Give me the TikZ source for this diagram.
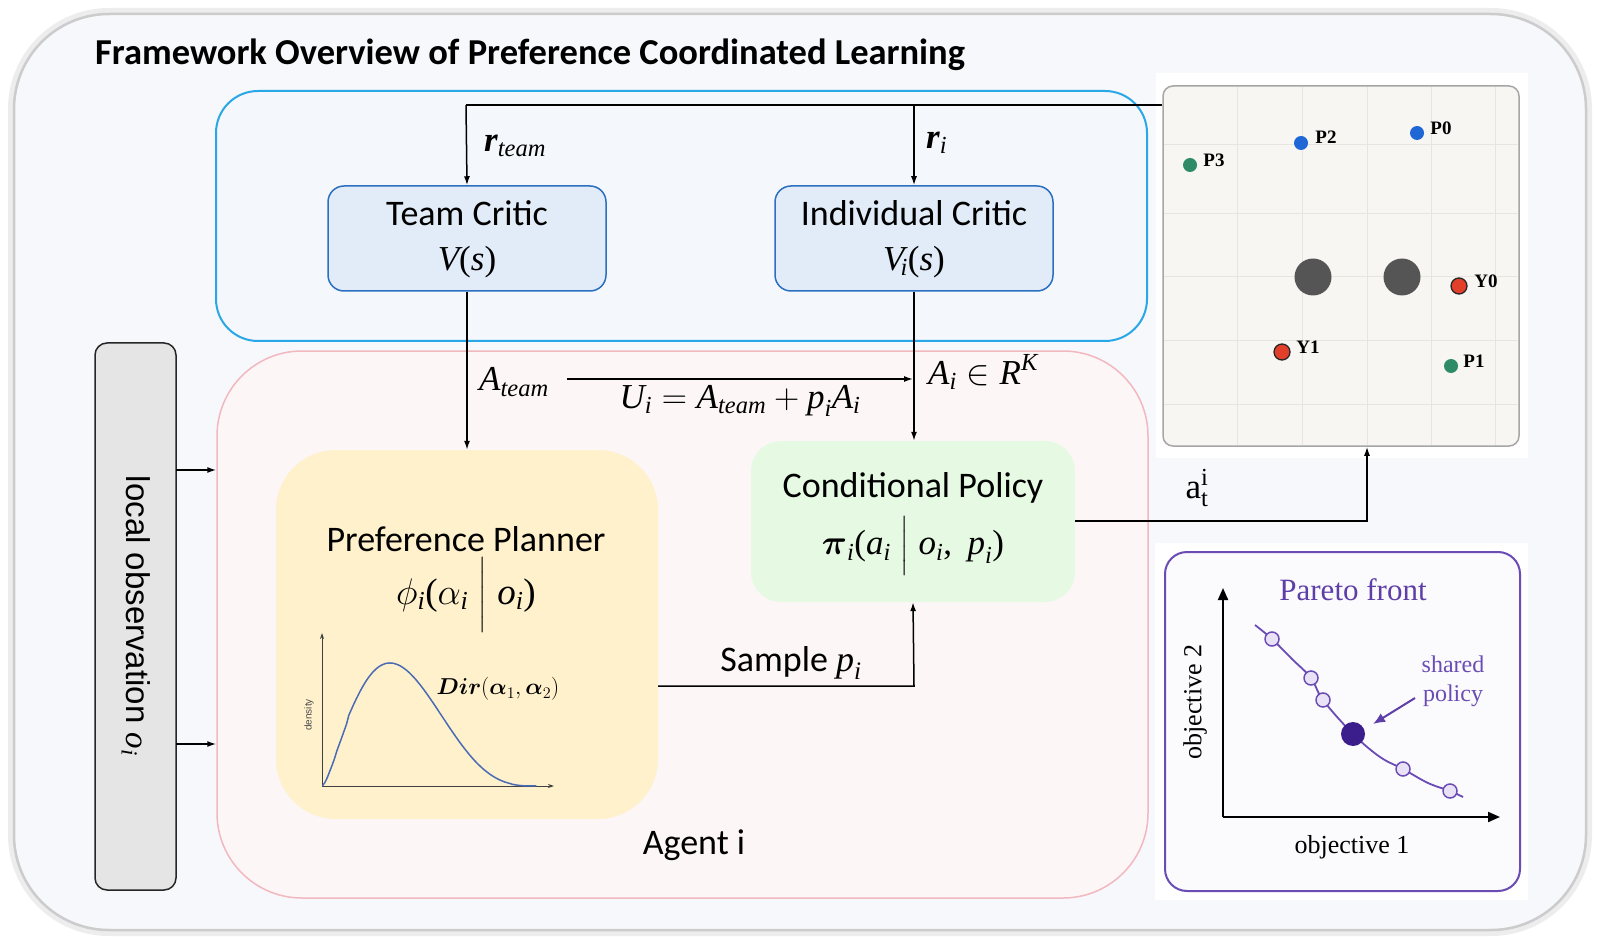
\RequirePackage{fix-cm}
\documentclass[tikz,border=0pt]{standalone}
\usepackage{amsmath}
\usepackage{fontspec}
\setmainfont{Carlito}
\newfontfamily\tms{Liberation Serif}
\newfontfamily\lsans{Liberation Sans}
\usetikzlibrary{arrows.meta}
\newcommand\ti[1]{\text{\tms\itshape #1}}
\newcommand\tu[1]{\text{\tms #1}}
\newcommand\tbi[1]{\text{\tms\bfseries\itshape #1}}
\definecolor{outerf}{HTML}{F7F8FB}
\definecolor{cyanb}{HTML}{2AA7E6}
\definecolor{bluef}{HTML}{F4F7FC}
\definecolor{pinkb}{HTML}{F2B8BF}
\definecolor{pinkf}{HTML}{FCF6F7}
\definecolor{critb}{HTML}{2B6FC0}
\definecolor{critf}{HTML}{E1ECF8}
\definecolor{planf}{HTML}{FEF1CB}
\definecolor{polf}{HTML}{E6FAE3}
\definecolor{obsf}{HTML}{E5E5E5}
\definecolor{mapf}{HTML}{F8F6F3}
\definecolor{gridc}{HTML}{E8E5E1}
\definecolor{dblue}{HTML}{2067D6}
\definecolor{dgreen}{HTML}{2E8B68}
\definecolor{dred}{HTML}{E2402A}
\definecolor{obst}{HTML}{555555}
\definecolor{curveb}{HTML}{4C6BB5}
\definecolor{purp}{HTML}{6A4CB4}
\definecolor{purpd}{HTML}{3B1E8C}
\definecolor{purpl}{HTML}{E9E2F6}
\definecolor{purpt}{HTML}{5E3FA8}
\definecolor{parf}{HTML}{FBFAFD}
\tikzset{
  arr/.style={draw=black, line width=1.5pt, -{Latex[length=9pt,width=6pt]}},
  ln/.style={draw=black, line width=1.5pt},
  lbl/.style={inner sep=0pt, anchor=center},
  boxc/.style={draw=critb, fill=critf, line width=1.5pt, rounded corners=16pt, minimum width=278pt, minimum height=105pt, inner sep=0pt},
  cal/.style={font={\fontsize{36}{40}\selectfont}},
  frm/.style={font={\fontsize{35}{40}\selectfont}},
  gridl/.style={draw=gridc, line width=1pt},
  pt/.style={circle, inner sep=0pt, minimum size=14pt},
  ptr/.style={circle, inner sep=0pt, minimum size=16pt, fill=dred, draw=black!85, line width=1.3pt},
  mlab/.style={inner sep=0pt, font={\tms\bfseries\fontsize{19}{22}\selectfont}},
  opc/.style={circle, inner sep=0pt, minimum size=14pt, fill=purpl, draw=purp, line width=1.5pt},
  axs/.style={draw=black!75, line width=1pt, -{Stealth[length=6pt,width=4pt]}},
}
\begin{document}
\begin{tikzpicture}[x=1pt,y=-1pt]
\useasboundingbox (0,0) rectangle (1600,949);
\fill[white] (0,0) rectangle (1600,949);
% outer frame
\draw[rounded corners=95pt, draw=black!7, line width=12pt] (14,14) rectangle (1586,930);
\node[draw=black!20, line width=2.5pt, fill=outerf, rounded corners=95pt, minimum width=1572pt, minimum height=916pt, inner sep=0pt] (frame) at (800,472) {};
\node[inner sep=0pt, anchor=west, font={\bfseries\fontsize{36.5}{42}\selectfont}] (title) at (95,55) {Framework Overview of Preference Coordinated Learning};

% containers
\node[draw=cyanb, fill=bluef, line width=2pt, rounded corners=42pt, minimum width=931pt, minimum height=250pt, inner sep=0pt] (critics) at (681.5,216) {};
\node[draw=pinkb, fill=pinkf, line width=1.5pt, rounded corners=85pt, minimum width=931pt, minimum height=547pt, inner sep=0pt] (agent) at (682.5,624.5) {};
\node[draw=black!85, fill=obsf, line width=1.5pt, rounded corners=12pt, minimum width=81pt, minimum height=547pt, inner sep=0pt] (obs) at (135.5,616.5) {};
\node[lbl, rotate=-90, font={\lsans\fontsize{33}{38}\selectfont}] (obsT) at (136,616) {local observation $\ti{o}_{\ti{i}}$};

% critics
\node[boxc] (team) at (467,238.5) {};
\node[lbl, cal] (teamT) at (467,213) {Team Critic};
\node[lbl, frm] (teamV) at (467,262) {$\ti{V}\tu{(}\ti{s}\tu{)}$};
\node[boxc] (indiv) at (914,238.5) {};
\node[lbl, cal] (indivT) at (914,213) {Individual Critic};
\node[lbl, frm] (indivV) at (914,262) {$\ti{V}_{\!\ti{i}}\tu{(}\ti{s}\tu{)}$};

% planner
\node[fill=planf, rounded corners=60pt, minimum width=382pt, minimum height=369pt, inner sep=0pt] (planner) at (467,634.5) {};
\node[lbl, cal] (planT) at (466,539) {Preference Planner};
\node[lbl, font={\fontsize{37}{42}\selectfont}] (planF) at (466,595) {$\phi_{\ti{i}}\tu{(}\alpha_{\ti{i}}\;\Big|\;\ti{o}_{\ti{i}}\tu{)}$};
\draw[axs] (322,786) -- (322,633);
\draw[axs] (322,786) -- (554,786);
\draw[draw=curveb, line width=1.5pt] plot[domain=0.002:0.998, samples=90] ({322+215*\x},{786-2380*(\x^1.5)*((1-\x)^3.25)});
\node[lbl, rotate=90, text=black!70, font={\lsans\fontsize{10}{12}\selectfont}] (dens) at (309,715) {density};
\node[lbl, font={\fontsize{23}{26}\selectfont}] (dirL) at (498,689) {$\boldsymbol{Dir}(\boldsymbol{\alpha}_1,\boldsymbol{\alpha}_2)$};

% policy
\node[fill=polf, rounded corners=30pt, minimum width=324pt, minimum height=161pt, inner sep=0pt] (cond) at (913,521.5) {};
\node[lbl, cal] (condT) at (913,488) {Conditional Policy};
\node[lbl, frm] (condF) at (913,546) {$\boldsymbol{\pi}_{\ti{i}}\tu{(}\ti{a}_{\ti{i}}\;\Big|\;\ti{o}_{\ti{i}}\tu{,}\;\,\ti{p}_{\ti{i}}\tu{)}$};

\node[lbl, cal] (agentT) at (694,845) {Agent i};

% map
\fill[white] (1156,73) rectangle (1528,458);
\node[draw=black!35, fill=mapf, line width=1.5pt, rounded corners=10pt, minimum width=356pt, minimum height=360pt, inner sep=0pt] (mapbox) at (1341,266) {};
\foreach \gx in {1237,1302,1367,1431,1495} \draw[gridl] (\gx,87) -- (\gx,445);
\foreach \gy in {145,214,277,341,404} \draw[gridl] (1164,\gy) -- (1518,\gy);
\node[circle, fill=obst, inner sep=0pt, minimum size=37pt] (ob1) at (1313,277) {};
\node[circle, fill=obst, inner sep=0pt, minimum size=37pt] (ob2) at (1402,277) {};
\node[pt, fill=dgreen] (p3) at (1190,165) {};
\node[mlab] (p3l) at (1214,160) {P3};
\node[pt, fill=dblue] (p2) at (1301,143) {};
\node[mlab] (p2l) at (1326,137) {P2};
\node[pt, fill=dblue] (p0) at (1417,133) {};
\node[mlab] (p0l) at (1441,128) {P0};
\node[ptr] (y0) at (1459,286) {};
\node[mlab] (y0l) at (1486,281) {Y0};
\node[ptr] (y1) at (1282,352) {};
\node[mlab] (y1l) at (1308,347) {Y1};
\node[pt, fill=dgreen] (p1) at (1451,366) {};
\node[mlab] (p1l) at (1474,361) {P1};

% pareto
\fill[white] (1155,543) rectangle (1528,900);
\node[draw=purp, fill=parf, line width=2pt, rounded corners=22pt, minimum width=355pt, minimum height=339pt, inner sep=0pt] (pareto) at (1342.5,721.5) {};
\node[lbl, text=purpt, font={\tms\fontsize{31}{34}\selectfont}] (parT) at (1353,590) {Pareto front};
\coordinate (po) at (1223,817);
\draw[line width=2pt, -{Triangle[length=12pt,width=10pt]}] (po) -- (1223,588);
\draw[line width=2pt, -{Triangle[length=12pt,width=10pt]}] (po) -- (1500,817);
\node[lbl, rotate=90, font={\tms\fontsize{26}{30}\selectfont}] (obj2) at (1195,702) {objective 2};
\node[lbl, font={\tms\fontsize{26}{30}\selectfont}] (obj1) at (1352,847) {objective 1};
\draw[draw=purp, line width=1.8pt] plot[smooth, tension=0.6] coordinates {(1255,625) (1272,639) (1292,659) (1311,678) (1323,700) (1353,734) (1380,757) (1403,769) (1428,783) (1450,791) (1463,797)};
\node[opc] (c1) at (1272,639) {};
\node[opc] (c2) at (1311,678) {};
\node[opc] (c3) at (1323,700) {};
\node[opc] (c4) at (1403,769) {};
\node[opc] (c5) at (1450,791) {};
\node[circle, fill=purpd, inner sep=0pt, minimum size=24pt] (sp) at (1353,734) {};
\node[lbl, text=purp, align=center, font={\tms\fontsize{24}{29}\selectfont}] (shared) at (1453,681) {shared\\policy};
\coordinate (spa) at (1415,698);
\coordinate (spb) at (1373,724);
\draw[draw=purpt, line width=2pt, -{Latex[length=12pt,width=10pt]}] (spa) -- (spb);

% connectors
\coordinate (j1) at (466,105);
\coordinate (j2) at (914,105);
\draw[ln] (mapbox.west |- j1) -- (j1);
\draw[arr] (j1) -- (team.north);
\draw[arr] (j2) -- (indiv.north);
\node[lbl, anchor=west, frm] (rteam) at (484,146) {$\tbi{r}_{\ti{team}}$};
\node[lbl, anchor=west, frm] (ri) at (926,143) {$\tbi{r}_{\ti{i}}$};

\draw[arr] (team.south) -- (team.south |- planner.north);
\draw[arr] (indiv.south) -- (indiv.south |- cond.north);

\coordinate (ua) at (567,379);
\coordinate (ub) at (913,379);
\draw[arr] (ua) -- (ub);
\node[lbl, anchor=west, frm] (ateam) at (479,382) {$\ti{A}_{\ti{team}}$};
\node[lbl, frm] (uform) at (740,401) {$\ti{U}_{\ti{i}} = \ti{A}_{\ti{team}} + \ti{p}_{\ti{i}}\ti{A}_{\ti{i}}$};
\node[lbl, anchor=west, frm] (aik) at (928,372) {$\ti{A}_{\ti{i}} \in \ti{R}^{\ti{K}}$};

\coordinate (samp) at (914,686);
\draw[arr] (planner.east |- samp) -- (samp) -- (cond.south);
\node[lbl, cal] (sampT) at (791,663) {Sample $\ti{p}_{\ti{i}}$};

\coordinate (act) at (1367,521);
\draw[arr] (cond.east |- act) -- (act) -- (act |- mapbox.south);
\node[lbl, frm] (atl) at (1197,488) {$\tu{a}^{\tu{i}}_{\tu{t}}$};

\coordinate (o1) at (176,470);
\coordinate (o2) at (176,744);
\draw[arr] (o1) -- (agent.west |- o1);
\draw[arr] (o2) -- (agent.west |- o2);
\end{tikzpicture}
\end{document}
